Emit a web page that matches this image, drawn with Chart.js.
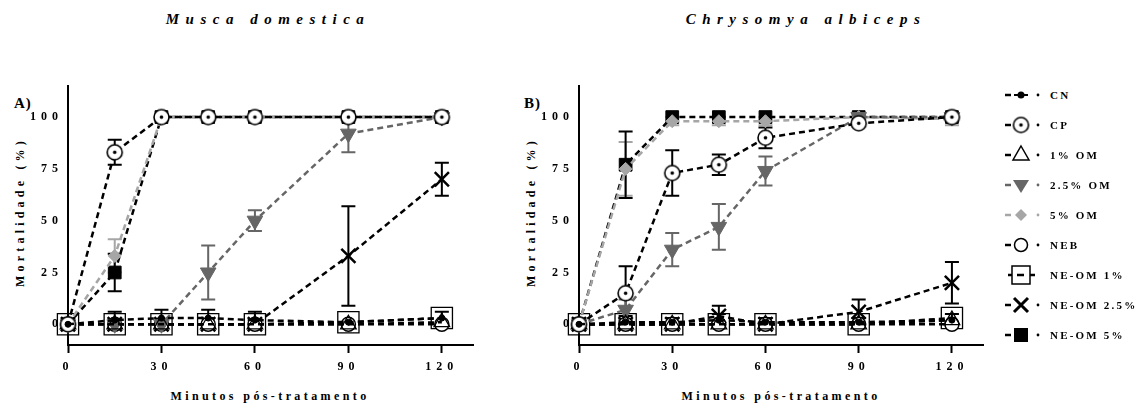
<!DOCTYPE html>
<html>
<head>
<meta charset="utf-8">
<script src="https://cdn.jsdelivr.net/npm/chart.js@4.4.0/dist/chart.umd.min.js"></script>
<style>
  body { margin: 0; background: #fff; width: 1142px; height: 408px; position: relative; overflow: hidden;
         font-family: "Liberation Serif", "Times New Roman", serif; }
  .lbl { position: absolute; white-space: nowrap; font-weight: bold; color: #000; }
  .title { font-style: italic; font-size: 15px; letter-spacing: 6.5px; top: 11px; transform: translateX(-50%); }
  .panel { font-size: 15px; top: 95px; letter-spacing: 1px; }
  .xt { font-size: 12px; letter-spacing: 3.4px; top: 389px; transform: translateX(-50%); }
  .yt { font-size: 12px; letter-spacing: 4.2px; transform: translate(-50%, -50%) rotate(-90deg); }
  canvas.chart { position: absolute; top: 0; }
  .leg { position: absolute; left: 1002px; height: 24px; display: flex; align-items: center; white-space: nowrap; }
  .leg span { font-size: 11px; letter-spacing: 2.2px; font-weight: bold; margin-left: 8px; }
</style>
</head>
<body>
<div class="lbl title" style="left:268px">Musca domestica</div>
<div class="lbl title" style="left:806px">Chrysomya albiceps</div>
<div class="lbl panel" style="left:14px">A)</div>
<div class="lbl panel" style="left:524px">B)</div>
<div class="lbl yt" style="left:20px;top:212px">Mortalidade (%)</div>
<div class="lbl yt" style="left:531px;top:212px">Mortalidade (%)</div>
<div class="lbl xt" style="left:270px">Minutos pós-tratamento</div>
<div class="lbl xt" style="left:781px">Minutos pós-tratamento</div>

<canvas id="chartA" class="chart" width="520" height="408" style="left:0"></canvas>
<canvas id="chartB" class="chart" width="480" height="408" style="left:520px"></canvas>
<div id="legend"></div>

<script>
// tempo (min) e rótulos
const minutes = [0, 15, 30, 45, 60, 90, 120];
const seriesNames = ['CN', 'CP', '1% OM', '2.5% OM', '5% OM', 'NEB', 'NE-OM 1%', 'NE-OM 2.5%', 'NE-OM 5%'];
const yTicks = [0, 25, 50, 75, 100];
const xTicks = [0, 30, 60, 90, 120];

// A) Musca domestica - mortalidade media (%)
const cnA     = [0, 2, 3, 3, 2, 1, 3];
const cpA     = [0, 83, 100, 100, 100, 100, 100];
const om1A    = [0, 0, 0, 0, 0, 0, 1];
const om25A   = [0, 0, 0, 25, 50, 92, 100];
const om5A    = [0, 33, 100, 100, 100, 100, 100];
const nebA    = [0, 0, 0, 0, 0, 0, 0];
const neom1A  = [0, 0, 0, 0, 0, 1, 3];
const neom25A = [0, 0, 0, 0, 0, 33, 70];
const neom5A  = [0, 25, 100, 100, 100, 100, 100];
// erro padrao (+/-)
const cnA_err     = [0, 4, 4, 4, 4, 0, 3];
const cpA_err     = [0, 6, 0, 0, 0, 0, 0];
const om25A_err   = [0, 0, 0, 13, 5, 9, 0];
const om5A_err    = [0, 8, 0, 0, 0, 0, 0];
const neom25A_err = [0, 0, 0, 0, 0, 24, 8];
const neom5A_err  = [0, 9, 0, 0, 0, 0, 0];

// B) Chrysomya albiceps
const cnB     = [0, 1, 1, 2, 1, 1, 2];
const cpB     = [0, 15, 73, 77, 90, 97, 100];
const om1B    = [0, 0, 0, 0, 0, 0, 2];
const om25B   = [0, 7, 36, 47, 74, 100, 100];
const om5B    = [0, 75, 98, 98, 98, 100, 99];
const nebB    = [0, 0, 0, 0, 0, 0, 0];
const neom1B  = [0, 0, 0, 0, 0, 0, 3];
const neom25B = [0, 0, 0, 4, 0, 6, 20];
const neom5B  = [0, 77, 100, 100, 100, 100, 100];
const cnB_err     = [0, 3, 2, 3, 2, 2, 3];
const cpB_err     = [0, 13, 11, 5, 5, 0, 0];
const om25B_err   = [0, 5, 8, 11, 7, 0, 0];
const om5B_err    = [0, 13, 2, 2, 2, 0, 3];
const neom25B_err = [0, 0, 0, 5, 0, 6, 10];
const neom5B_err  = [0, 16, 0, 0, 0, 0, 0];

const GRAY_D = '#666666';
const GRAY_L = '#a6a6a6';

// circulo com ponto (CP)
function makeCP(r) {
  const c = document.createElement('canvas');
  c.width = 2 * r + 4; c.height = 2 * r + 4;
  const g = c.getContext('2d');
  const m = r + 2;
  g.fillStyle = '#fff'; g.strokeStyle = '#000'; g.lineWidth = 1.6;
  g.beginPath(); g.arc(m, m, r, 0, Math.PI * 2); g.fill(); g.stroke();
  g.fillStyle = '#000';
  g.beginPath(); g.arc(m, m, 1.8, 0, Math.PI * 2); g.fill();
  return c;
}
const cpImg = makeCP(7.5);

const styles = [
  { color: '#000', pointStyle: 'circle', radius: 3, bg: '#000' },
  { color: '#000', pointStyle: cpImg, radius: 8, bg: '#fff' },
  { color: '#000', pointStyle: 'triangle', radius: 9, bg: 'rgba(255,255,255,0)', pbw: 1.3 },
  { color: GRAY_D, pointStyle: 'triangle', radius: 9, bg: GRAY_D, rot: 180 },
  { color: GRAY_L, pointStyle: 'rectRot', radius: 6.5, bg: GRAY_L },
  { color: '#000', pointStyle: 'circle', radius: 7, bg: '#fff', pbw: 1.5 },
  { color: '#000', pointStyle: 'rect', radius: 15, bg: 'rgba(255,255,255,0)', pbw: 1.3 },
  { color: '#000', pointStyle: 'crossRot', radius: 10, bg: '#000', pbw: 2.5 },
  { color: '#000', pointStyle: 'rect', radius: 9, bg: '#000' }
];

function buildDatasets(vals, errs) {
  return vals.map((v, i) => {
    const s = styles[i];
    return {
      label: seriesNames[i],
      data: minutes.map((m, j) => ({ x: m, y: v[j] })),
      err: errs[i],
      borderColor: s.color,
      backgroundColor: s.bg,
      pointBackgroundColor: s.bg,
      pointBorderColor: s.color,
      pointBorderWidth: s.pbw || 1,
      pointStyle: s.pointStyle,
      pointRadius: s.radius,
      pointRotation: s.rot || 0,
      borderWidth: 2.5,
      borderDash: [6, 4],
      fill: false,
      tension: 0,
      clip: false
    };
  });
}

const errorBars = {
  id: 'errorBars',
  beforeDatasetsDraw(chart) {
    const { ctx, scales: { x, y } } = chart;
    chart.data.datasets.forEach(d => {
      if (!d.err) return;
      ctx.save();
      ctx.strokeStyle = d.borderColor;
      ctx.lineWidth = 2;
      ctx.setLineDash([]);
      d.data.forEach((p, j) => {
        const e = d.err[j];
        if (!e) return;
        const px = x.getPixelForValue(p.x);
        const y1 = y.getPixelForValue(p.y - e), y2 = y.getPixelForValue(p.y + e);
        ctx.beginPath();
        ctx.moveTo(px, y1); ctx.lineTo(px, y2);
        ctx.moveTo(px - 7, y1); ctx.lineTo(px + 7, y1);
        ctx.moveTo(px - 7, y2); ctx.lineTo(px + 7, y2);
        ctx.stroke();
      });
      ctx.restore();
    });
  }
};

const spacing = {
  id: 'spacing',
  beforeDraw(chart) { chart.ctx.letterSpacing = '5px'; }
};

function makeChart(id, vals, errs, yWidth, padRight) {
  return new Chart(document.getElementById(id), {
    type: 'line',
    data: { datasets: buildDatasets(vals, errs) },
    options: {
      responsive: false,
      animation: false,
      events: [],
      layout: { padding: { left: 0, top: 86, right: padRight, bottom: 0 } },
      plugins: { legend: { display: false }, tooltip: { enabled: false } },
      scales: {
        x: {
          type: 'linear', min: 0, max: 130,
          afterBuildTicks: s => { s.ticks = xTicks.map(v => ({ value: v })); },
          afterFit: s => { s.height = 63; },
          border: { display: true, color: '#000', width: 2 },
          grid: { drawOnChartArea: false, drawTicks: true, tickLength: 8, tickColor: '#000', tickWidth: 2 },
          ticks: { color: '#000', padding: 7, font: { family: 'Liberation Serif', size: 12, weight: 'bold' } }
        },
        y: {
          min: -10, max: 115,
          afterBuildTicks: s => { s.ticks = yTicks.map(v => ({ value: v })); },
          afterFit: s => { s.width = yWidth; },
          border: { display: true, color: '#000', width: 2 },
          grid: { display: true, drawOnChartArea: false, drawTicks: false },
          ticks: { color: '#000', padding: 5, font: { family: 'Liberation Serif', size: 12, weight: 'bold' } }
        }
      }
    },
    plugins: [errorBars, spacing]
  });
}

makeChart('chartA',
  [cnA, cpA, om1A, om25A, om5A, nebA, neom1A, neom25A, neom5A],
  [cnA_err, cpA_err, null, om25A_err, om5A_err, null, null, neom25A_err, neom5A_err],
  68, 47);
makeChart('chartB',
  [cnB, cpB, om1B, om25B, om5B, nebB, neom1B, neom25B, neom5B],
  [cnB_err, cpB_err, null, om25B_err, om5B_err, null, null, neom25B_err, neom5B_err],
  59, 17);

// legenda
function drawSymbol(g, i) {
  const s = styles[i];
  const cy = 12, cx = 19;
  g.strokeStyle = s.color; g.fillStyle = s.color; g.lineWidth = 2.5;
  if (i === 6) {
    g.lineWidth = 1.5;
    g.strokeRect(cx - 9, cy - 9, 18, 18);
    g.lineWidth = 2.5;
    g.beginPath(); g.moveTo(6, cy); g.lineTo(10, cy); g.moveTo(15, cy); g.lineTo(22, cy); g.moveTo(28, cy); g.lineTo(33, cy); g.stroke();
    return;
  }
  g.beginPath(); g.moveTo(3, cy); g.lineTo(9, cy); g.stroke();
  g.beginPath(); g.arc(36, cy, 1.4, 0, Math.PI * 2); g.fill();
  g.lineWidth = 1.5;
  if (i === 0) { g.beginPath(); g.arc(cx, cy, 3.5, 0, Math.PI * 2); g.fill(); g.fillRect(12, cy - 1, 14, 2); }
  else if (i === 1) { g.drawImage(cpImg, cx - cpImg.width / 2, cy - cpImg.height / 2); }
  else if (i === 2) { g.fillStyle = '#fff'; g.beginPath(); g.moveTo(cx, cy - 9); g.lineTo(cx + 8, cy + 5); g.lineTo(cx - 8, cy + 5); g.closePath(); g.fill(); g.stroke(); }
  else if (i === 3) { g.beginPath(); g.moveTo(cx - 8, cy - 5); g.lineTo(cx + 8, cy - 5); g.lineTo(cx, cy + 8); g.closePath(); g.fill(); }
  else if (i === 4) { g.beginPath(); g.moveTo(cx, cy - 6); g.lineTo(cx + 6, cy); g.lineTo(cx, cy + 6); g.lineTo(cx - 6, cy); g.closePath(); g.fill(); }
  else if (i === 5) { g.fillStyle = '#fff'; g.beginPath(); g.arc(cx, cy, 6.5, 0, Math.PI * 2); g.fill(); g.stroke(); }
  else if (i === 7) { g.lineWidth = 3; g.beginPath(); g.moveTo(cx - 7, cy - 7); g.lineTo(cx + 7, cy + 7); g.moveTo(cx + 7, cy - 7); g.lineTo(cx - 7, cy + 7); g.stroke(); }
  else if (i === 8) { g.fillRect(cx - 7, cy - 7, 14, 14); }
}

const legend = document.getElementById('legend');
seriesNames.forEach((name, i) => {
  const row = document.createElement('div');
  row.className = 'leg';
  row.style.top = (95 + 30 * i - 12) + 'px';
  const c = document.createElement('canvas');
  c.width = 40; c.height = 24;
  drawSymbol(c.getContext('2d'), i);
  const t = document.createElement('span');
  t.textContent = name;
  row.appendChild(c); row.appendChild(t);
  legend.appendChild(row);
});
</script>
</body>
</html>
